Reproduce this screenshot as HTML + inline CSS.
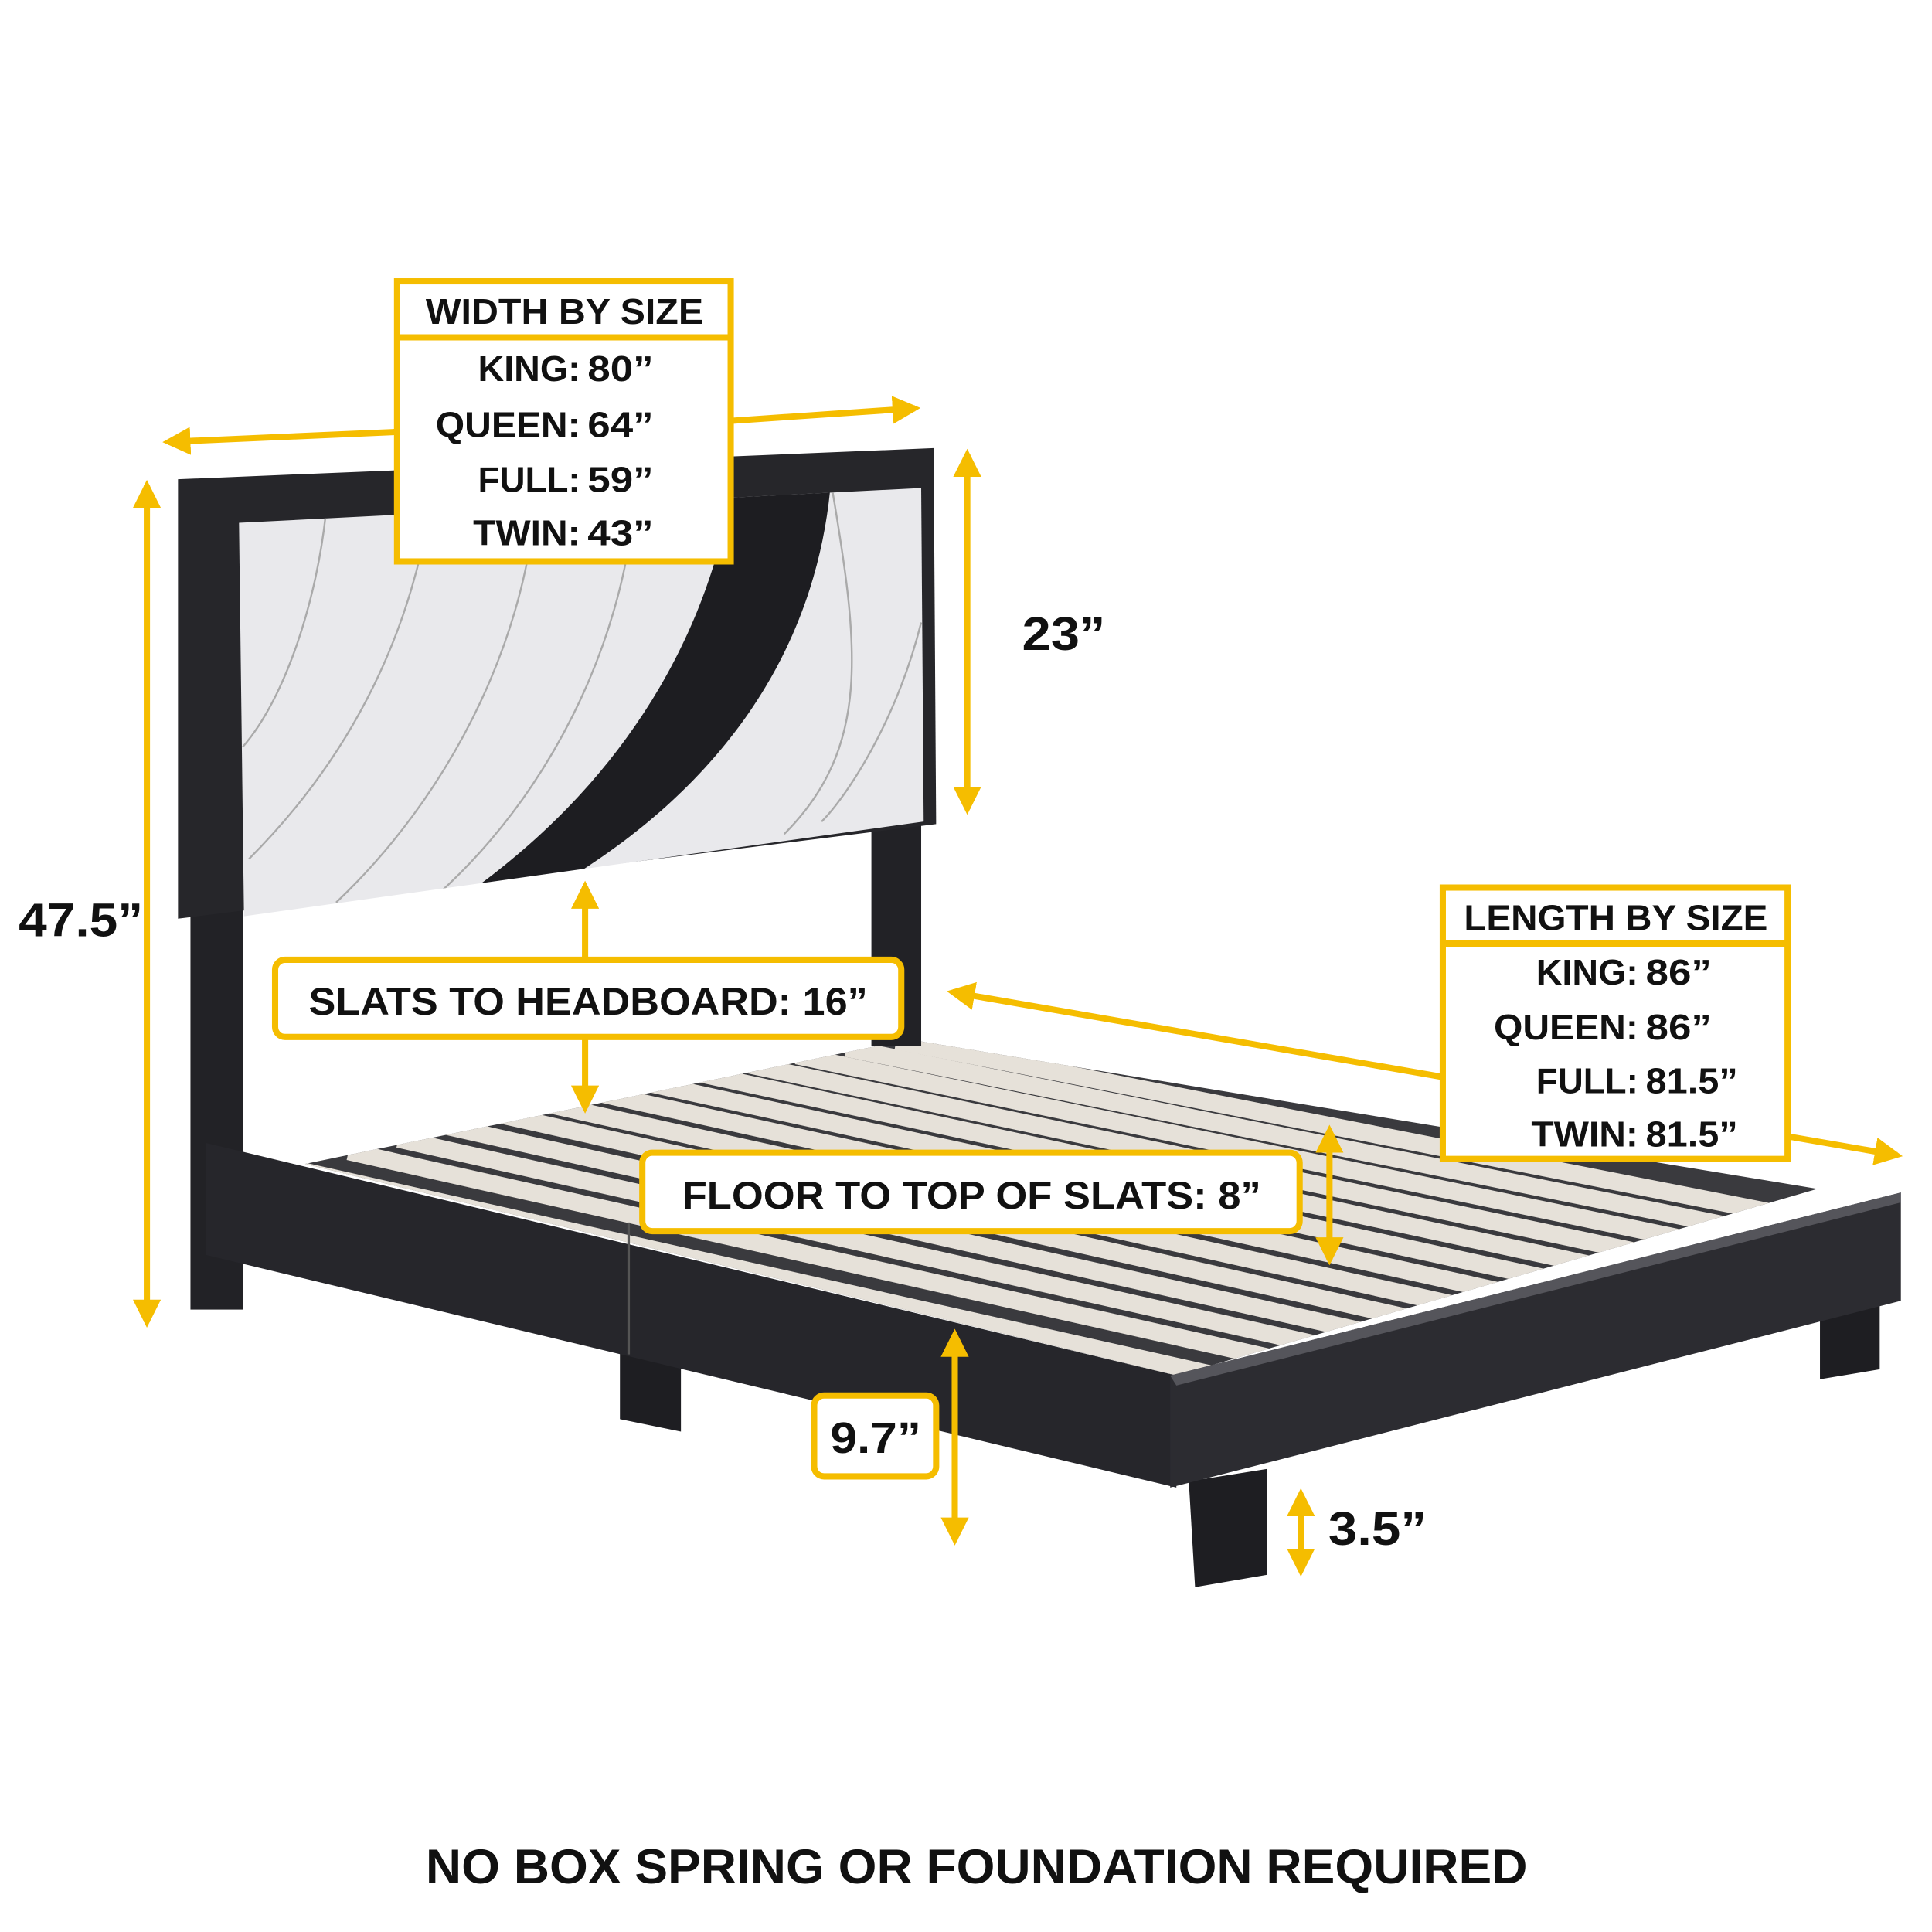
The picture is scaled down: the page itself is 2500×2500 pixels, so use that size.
<!DOCTYPE html>
<html><head><meta charset="utf-8"><style>
html,body{margin:0;padding:0;background:#fff;}
svg{display:block;}
text{font-family:"Liberation Sans",Arial,sans-serif;font-weight:bold;fill:#111;}
</style></head><body>
<svg width="2500" height="2500" viewBox="0 0 1552 1552" xmlns="http://www.w3.org/2000/svg">
<defs>
<marker id="ah" viewBox="0 0 10 10" refX="8" refY="5" markerWidth="4.5" markerHeight="4.5" orient="auto-start-reverse" markerUnits="strokeWidth">
<path d="M0,0 L10,5 L0,10 z" fill="#F5BD00"/></marker>
<clipPath id="pan"><polygon points="192,420 740,392 742,660 196,736"/></clipPath>
<clipPath id="slt"><polygon points="245,935 730,835 1460,955 945,1105"/></clipPath>
</defs>
<rect width="1552" height="1552" fill="#fff"/>

<polygon points="245,935 730,835 1460,955 945,1105" fill="#3a3a3e"/>
<g clip-path="url(#slt)" stroke="#e6e1d9" stroke-width="14">
<line x1="240" y1="940" x2="1000" y2="1110"/>
<line x1="280" y1="925" x2="1040" y2="1095"/>
<line x1="320" y1="915" x2="1080" y2="1085"/>
<line x1="360" y1="905" x2="1120" y2="1075"/>
<line x1="400" y1="895" x2="1160" y2="1065"/>
<line x1="440" y1="887" x2="1200" y2="1055"/>
<line x1="480" y1="878" x2="1240" y2="1045"/>
<line x1="520" y1="870" x2="1280" y2="1035"/>
<line x1="560" y1="862" x2="1320" y2="1025"/>
<line x1="600" y1="855" x2="1360" y2="1015"/>
<line x1="640" y1="848" x2="1400" y2="1005"/>
<line x1="680" y1="842" x2="1440" y2="995"/>
<line x1="720" y1="836" x2="1480" y2="985"/>
</g>

<rect x="153" y="730" width="42" height="322" fill="#222226"/>
<rect x="700" y="660" width="40" height="180" fill="#222226"/>

<polygon points="498,1085 547,1095 547,1150 498,1140" fill="#1e1e22"/>
<polygon points="955,1190 1018,1180 1018,1265 960,1275" fill="#1e1e22"/>
<polygon points="1462,1040 1510,1035 1510,1100 1462,1108" fill="#1e1e22"/>

<polygon points="165,918 945,1105 945,1195 165,1008" fill="#26262b"/>
<line x1="505" y1="982" x2="505" y2="1088" stroke="#555" stroke-width="2"/>
<polygon points="940,1105 1527,958 1527,1045 940,1195" fill="#2c2c31"/>
<polygon points="940,1105 1527,958 1527,966 945,1113" fill="#55555b"/>

<polygon points="143,385 750,360 752,662 143,738" fill="#26262a"/>
<polygon points="192,420 740,392 742,660 196,736" fill="#e9e9ec"/>
<g clip-path="url(#pan)">
<path d="M590,380 L668,380 C660,500 600,620 450,710 L365,725 C490,640 570,520 590,380 Z" fill="#1d1d21"/>
<g fill="none" stroke="#aaa" stroke-width="1.5">
<path d="M262,410 C255,480 230,560 195,600"/>
<path d="M345,410 C330,500 290,600 200,690"/>
<path d="M430,405 C420,520 360,640 270,725"/>
<path d="M510,400 C500,520 440,640 350,720"/>
<path d="M668,390 C690,520 700,600 630,670"/>
<path d="M740,500 C720,580 680,640 660,660"/>
</g>
</g>

<g stroke="#F5BD00" stroke-width="5" fill="none" marker-start="url(#ah)" marker-end="url(#ah)">
<line x1="135" y1="355" x2="318" y2="347" marker-end="none"/>
<line x1="588" y1="338" x2="735" y2="328" marker-start="none"/>
<line x1="777" y1="365" x2="777" y2="650"/>
<line x1="118" y1="390" x2="118" y2="1062"/>
<line x1="470" y1="712" x2="470" y2="770" marker-end="none"/>
<line x1="470" y1="833" x2="470" y2="890" marker-start="none"/>
<line x1="765" y1="797" x2="1158" y2="865" marker-end="none"/>
<line x1="1437" y1="913" x2="1524" y2="928" marker-start="none"/>
<line x1="1068" y1="908" x2="1068" y2="1012"/>
<line x1="767" y1="1072" x2="767" y2="1237"/>
<line x1="1045" y1="1200" x2="1045" y2="1262"/>
</g>

<rect x="319" y="226" width="268" height="225" fill="#fff" stroke="#F5BD00" stroke-width="5"/>
<line x1="319" y1="271" x2="587" y2="271" stroke="#F5BD00" stroke-width="5"/>
<g font-size="29">
<text x="342" y="260" textLength="223" lengthAdjust="spacingAndGlyphs">WIDTH BY SIZE</text>
<text x="384" y="306" textLength="82" lengthAdjust="spacingAndGlyphs">KING:</text><text x="472" y="306" textLength="53" lengthAdjust="spacingAndGlyphs">80”</text>
<text x="350" y="351" textLength="116" lengthAdjust="spacingAndGlyphs">QUEEN:</text><text x="472" y="351" textLength="53" lengthAdjust="spacingAndGlyphs">64”</text>
<text x="384" y="395" textLength="82" lengthAdjust="spacingAndGlyphs">FULL:</text><text x="472" y="395" textLength="53" lengthAdjust="spacingAndGlyphs">59”</text>
<text x="380" y="438" textLength="86" lengthAdjust="spacingAndGlyphs">TWIN:</text><text x="472" y="438" textLength="53" lengthAdjust="spacingAndGlyphs">43”</text>
</g>

<rect x="1159" y="713" width="277" height="218" fill="#fff" stroke="#F5BD00" stroke-width="5"/>
<line x1="1159" y1="758" x2="1436" y2="758" stroke="#F5BD00" stroke-width="5"/>
<g font-size="29">
<text x="1176" y="747" textLength="244" lengthAdjust="spacingAndGlyphs">LENGTH BY SIZE</text>
<text x="1234" y="791" textLength="82" lengthAdjust="spacingAndGlyphs">KING:</text><text x="1322" y="791" textLength="53" lengthAdjust="spacingAndGlyphs">86”</text>
<text x="1200" y="835" textLength="116" lengthAdjust="spacingAndGlyphs">QUEEN:</text><text x="1322" y="835" textLength="53" lengthAdjust="spacingAndGlyphs">86”</text>
<text x="1234" y="878" textLength="82" lengthAdjust="spacingAndGlyphs">FULL:</text><text x="1322" y="878" textLength="74" lengthAdjust="spacingAndGlyphs">81.5”</text>
<text x="1230" y="921" textLength="86" lengthAdjust="spacingAndGlyphs">TWIN:</text><text x="1322" y="921" textLength="74" lengthAdjust="spacingAndGlyphs">81.5”</text>
</g>

<rect x="221" y="771" width="503" height="62" rx="8" fill="#fff" stroke="#F5BD00" stroke-width="5"/>
<text x="248" y="815" font-size="31" textLength="449" lengthAdjust="spacingAndGlyphs">SLATS TO HEADBOARD: 16”</text>
<rect x="516" y="926" width="528" height="63" rx="8" fill="#fff" stroke="#F5BD00" stroke-width="5"/>
<text x="548" y="971" font-size="31" textLength="465" lengthAdjust="spacingAndGlyphs">FLOOR TO TOP OF SLATS: 8”</text>
<rect x="654" y="1121" width="98" height="65" rx="8" fill="#fff" stroke="#F5BD00" stroke-width="5"/>
<text x="667" y="1167" font-size="35" textLength="73" lengthAdjust="spacingAndGlyphs">9.7”</text>

<text x="821" y="522" font-size="38" textLength="67" lengthAdjust="spacingAndGlyphs">23”</text>
<text x="15" y="752" font-size="38" textLength="100" lengthAdjust="spacingAndGlyphs">47.5”</text>
<text x="1067" y="1241" font-size="38" textLength="79" lengthAdjust="spacingAndGlyphs">3.5”</text>

<text x="342" y="1513" font-size="39" textLength="885" lengthAdjust="spacingAndGlyphs">NO BOX SPRING OR FOUNDATION REQUIRED</text>
</svg>
</body></html>
